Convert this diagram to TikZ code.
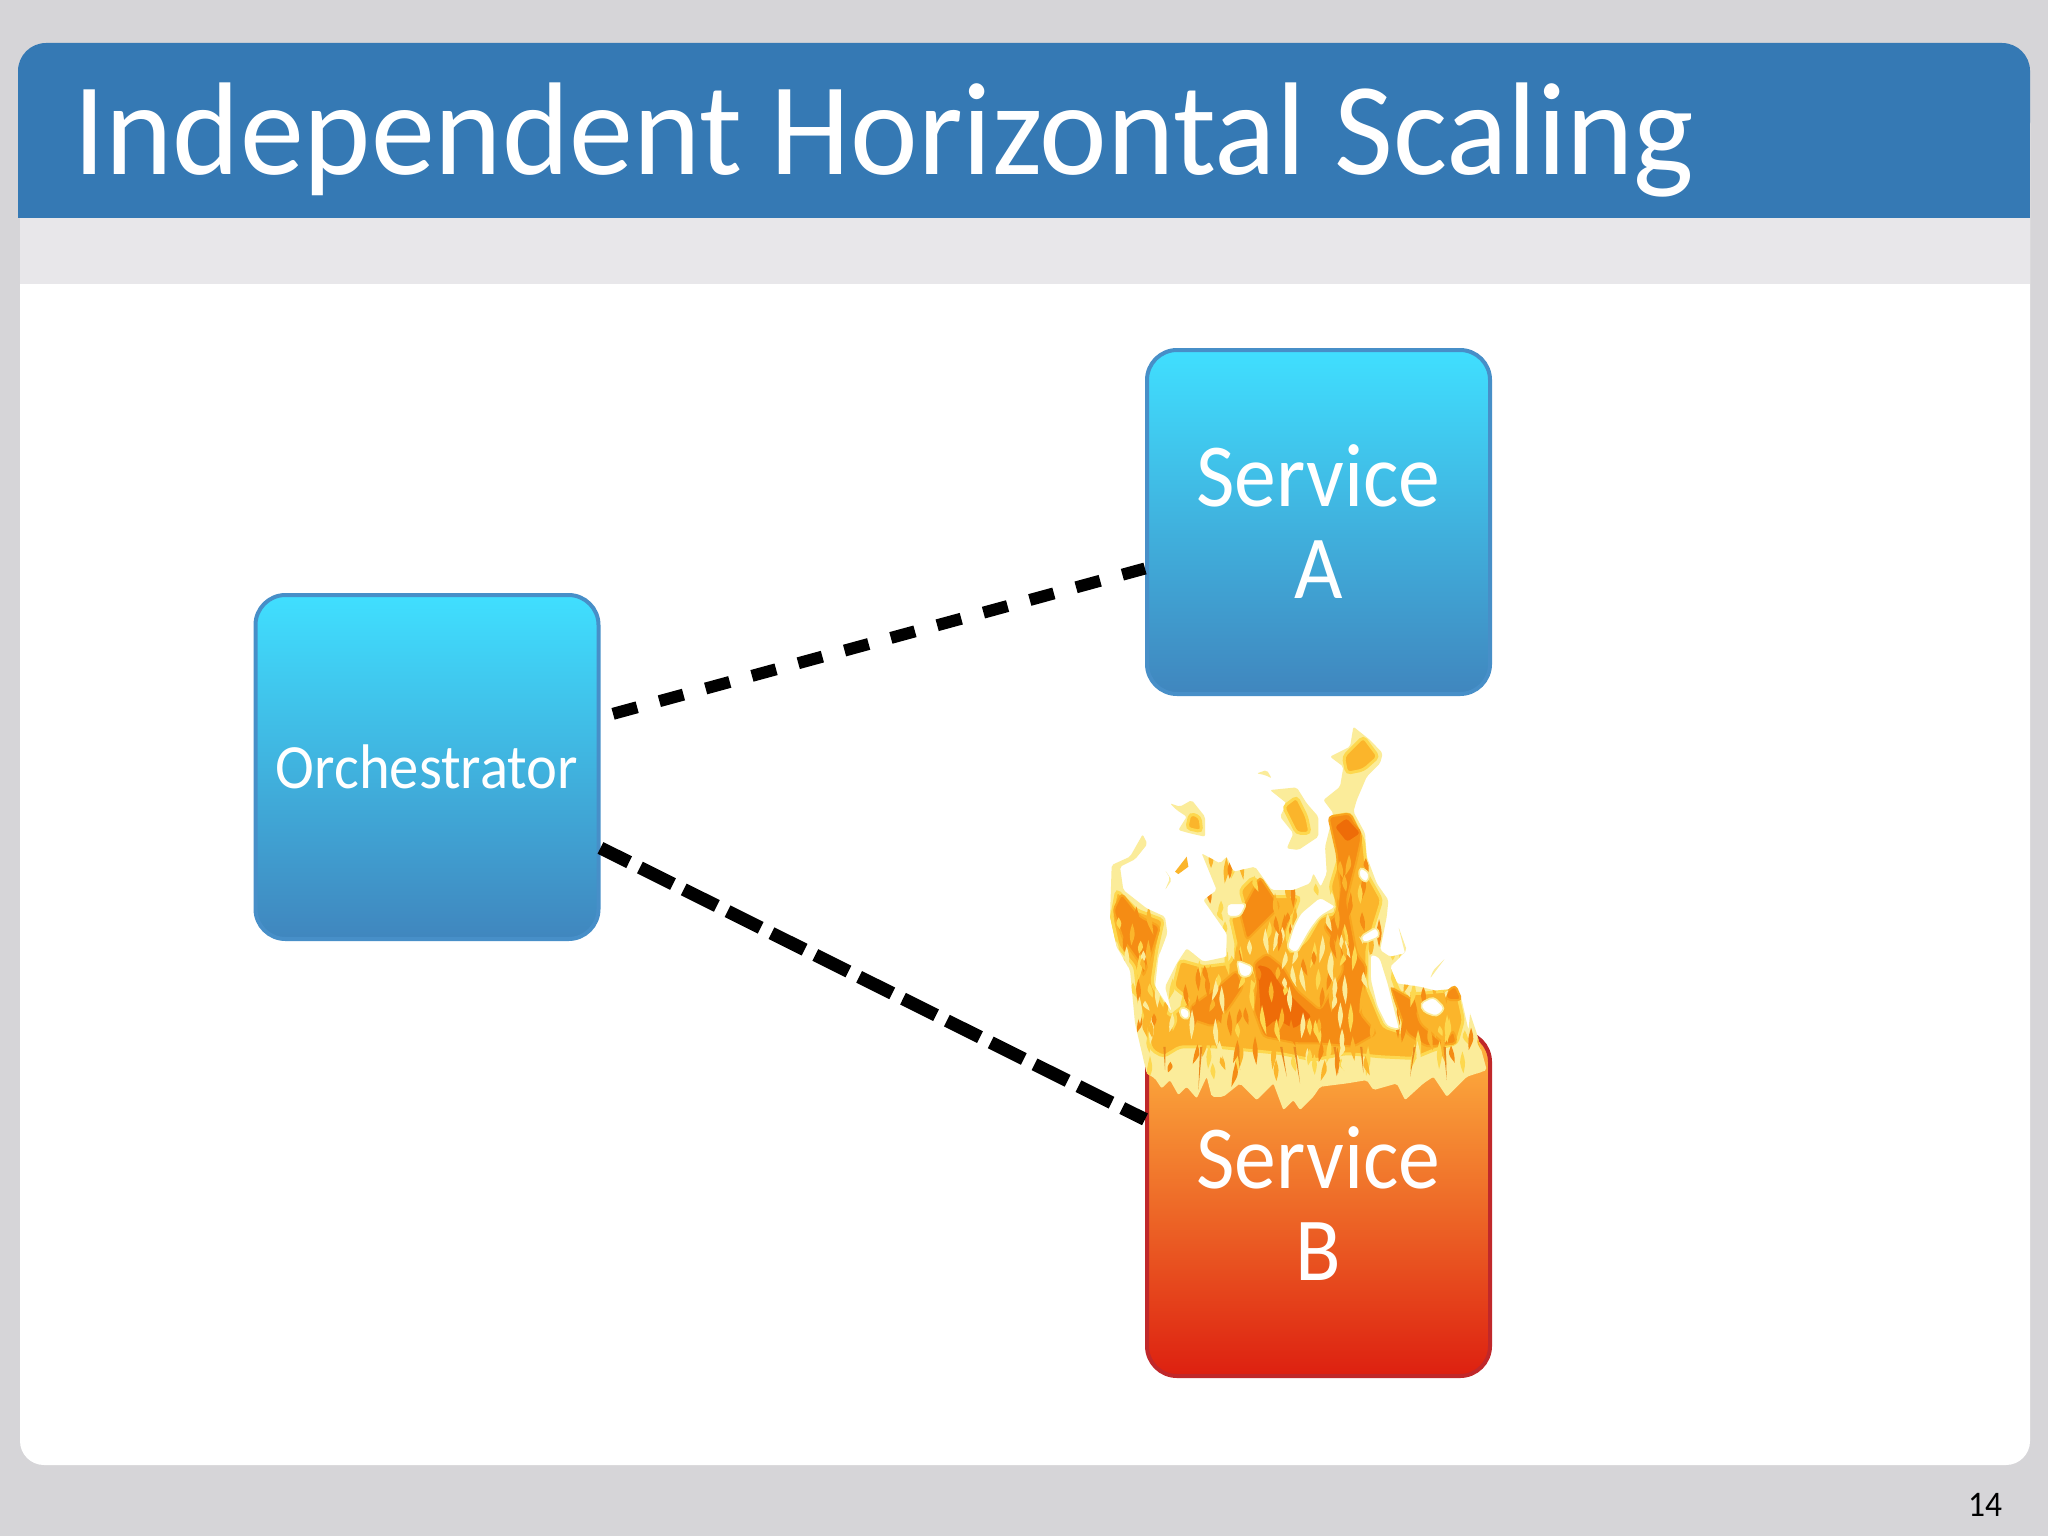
\documentclass[tikz,border=0pt]{standalone}
\usepackage{fontspec}
\setmainfont[FakeStretch=0.93]{Carlito}
\newfontfamily\titlefont[FakeStretch=0.97]{Carlito}
\definecolor{slidegray}{HTML}{D6D5D8}
\definecolor{bandblue}{HTML}{3579B4}
\definecolor{bandpale}{HTML}{E8E7EA}
\definecolor{boxtop}{HTML}{40DFFF}
\definecolor{boxbot}{HTML}{4086BE}
\definecolor{boxline}{HTML}{478FC8}
\definecolor{burntop}{HTML}{FFB540}
\definecolor{burnbot}{HTML}{DD2010}
\definecolor{burnline}{HTML}{C0282A}
\definecolor{flamepale}{HTML}{FBEC9A}
\definecolor{flameyel}{HTML}{FDD84F}
\definecolor{flamemid}{HTML}{FBB52B}
\definecolor{flamewarm}{HTML}{F9A51E}
\definecolor{flamehot}{HTML}{F58C14}
\definecolor{flamecore}{HTML}{EE6C08}
\tikzset{
    service/.style={draw=boxline,line width=2pt,rounded corners=15pt,top color=boxtop,bottom color=boxbot,
        minimum width=171.5pt,minimum height=172pt,inner sep=0pt,text=white,align=center,
        font=\fontsize{45}{46}\selectfont},
    burning/.style={service,draw=burnline,top color=burntop,bottom color=burnbot},
    linkup/.style={line width=6pt,dash pattern=on 12.5pt off 11.5pt},
    linkdown/.style={line width=6.5pt,dash pattern=on 18.5pt off 6pt,dash phase=2.5pt},
    pale/.style={fill=flamepale,rounded corners=1pt},
    mid/.style={fill=flamemid,draw=flameyel,line width=1.5pt,rounded corners=2pt},
    hot/.style={fill=flamehot,draw=flamewarm,line width=1pt,rounded corners=2pt},
    core/.style={fill=flamecore,draw=flamehot,line width=1pt,rounded corners=2pt},
    hole/.style={fill=white,draw=flamepale,line width=0.8pt,rounded corners=2pt}
}
\newcommand{\fireshape}{(200,1120) -- (165,970) -- (150,810) -- (110,740) -- (90,650) -- (95,495) -- (150,470) -- (188,403) -- (202,432) -- (165,478) -- (120,500) -- (130,570) -- (200,625) -- (255,650) -- (262,700) -- (235,770) -- (225,860) -- (275,935) -- (255,860) -- (290,790) -- (320,745) -- (370,785) -- (440,770) -- (440,700) -- (370,600) -- (410,570) -- (365,460) -- (420,490) -- (440,470) -- (460,515) -- (525,500) -- (575,570) -- (640,570) -- (690,550) -- (700,520) -- (722,560) -- (740,520) -- (735,440) -- (760,340) -- (730,300) -- (780,260) -- (790,200) -- (750,170) -- (810,140) -- (820,80) -- (870,120) -- (908,160) -- (900,190) -- (860,230) -- (830,300) -- (820,335) -- (855,400) -- (860,470) -- (890,550) -- (925,600) -- (920,650) -- (900,750) -- (930,770) -- (975,760) -- (955,680) -- (980,750) -- (930,800) -- (950,850) -- (1020,860) -- (1060,870) -- (1090,880) -- (1125,855) -- (1145,900) -- (1165,990) -- (1170,940) -- (1190,1000) -- (1220,1110) -- (1160,1130) -- (1100,1190) -- (1060,1130) -- (1030,1150) -- (975,1200) -- (950,1150) -- (880,1170) -- (860,1140) -- (800,1150) -- (720,1160) -- (700,1190) -- (660,1230) -- (640,1200) -- (610,1230) -- (580,1150) -- (530,1200) -- (480,1150) -- (430,1190) -- (395,1190) -- (380,1130) -- (350,1195) -- (320,1160) -- (295,1185) -- (270,1140) -- (245,1165) -- (225,1135) -- cycle}
\newcommand{\firebody}{(215,1050) -- (175,900) -- (165,800) -- (115,740) -- (95,650) -- (110,570) -- (170,630) -- (250,660) -- (230,750) -- (215,850) -- (270,950) -- (330,900) -- (280,860) -- (300,780) -- (370,800) -- (450,790) -- (470,740) -- (450,650) -- (500,640) -- (480,570) -- (520,530) -- (570,590) -- (660,590) -- (620,700) -- (630,760) -- (680,720) -- (720,650) -- (770,640) -- (750,560) -- (780,460) -- (750,350) -- (810,340) -- (850,420) -- (860,520) -- (905,600) -- (880,680) -- (860,750) -- (860,860) -- (910,980) -- (970,1000) -- (960,900) -- (925,800) -- (960,880) -- (1020,880) -- (1130,870) -- (1150,960) -- (1130,1030) -- (1060,1050) -- (1000,1075) -- (900,1070) -- (800,1060) -- (700,1080) -- (600,1060) -- (500,1050) -- (400,1040) -- (300,1040) -- (250,1070) -- cycle}
\begin{document}
\begin{tikzpicture}[x=0.5pt,y=-0.5pt]
    \useasboundingbox (0,0) rectangle (2048,1536);
    \fill [slidegray] (0,0) rectangle (2048,1536);

    % slide
    \fill [white,rounded corners=12pt] (20,100) rectangle (2030,1465);
    \fill [bandpale] (20,218) rectangle (2030,284);
    \fill [bandblue,rounded corners=14pt] (18,43) rectangle (2030,150);
    \fill [bandblue] (18,100) rectangle (2030,218);
    \node (title) [anchor=base west,inner sep=0pt,text=white,font=\titlefont\fontsize{66}{68}\selectfont] at (73,174) {Independent Horizontal Scaling};
    \node (page) [inner sep=0pt,font=\fontsize{18}{20}\selectfont] at (1985,1505) {14};

    % boxes
    \node (orch) [service,font=\fontsize{31.5}{32}\selectfont] at (427,767) {Orchestrator};
    \node (svca) [service] at (1318.5,522) {Service\\A};
    \node (svcb) [burning] at (1318.5,1204) {Service\\B};

    \draw [linkup,shorten <=6.5pt] (orch.16.4) -- (svca.195.6);
    \draw [linkdown] (orch.-25.6) -- (svcb.154);

    % fire, in coordinates of a 3x crop
    \begin{scope}[shift={(1080,700)},x=0.1667pt,y=-0.1667pt]
    \path [pale] \fireshape;
    \fill [pale] (270,310) -- (300,320) -- (335,300) -- (375,350) -- (375,410) -- (330,400) -- (295,390) -- (320,350) -- (290,330) -- cycle;
    \fill [flamemid] (285,515) -- (320,470) -- (325,500) -- (295,522) -- cycle;
    \fill [pale] (255,510) -- (275,540) -- (255,570) -- (270,535) -- cycle;
    \fill [pale] (530,220) -- (560,210) -- (575,235) -- (555,225) -- cycle;
    \fill [pale] (570,270) -- (650,262) -- (680,310) -- (715,350) -- (715,410) -- (655,450) -- (620,445) -- (640,400) -- (600,350) -- (620,310) -- cycle;
    \fill [pale] (1095,775) -- (1050,835) -- (1060,810) -- cycle;

    \path [mid] \firebody;
    \path [mid] (790,170) -- (850,110) -- (895,170) -- (850,210) -- (800,220) -- cycle;
    \path [mid] (610,320) -- (650,290) -- (680,350) -- (690,400) -- (650,400) -- cycle;
    \path [mid] (330,340) -- (360,350) -- (365,395) -- (320,385) -- cycle;

    \path [hot] (100,630) -- (125,580) -- (180,650) -- (240,680) -- (215,760) -- (190,830) -- (180,790) -- (130,720) -- cycle;
    \path [hot] (520,790) -- (560,760) -- (610,800) -- (650,870) -- (720,930) -- (790,810) -- (780,750) -- (730,680) -- (770,640) -- (780,560) -- (770,460) -- (745,350) -- (810,340) -- (845,410) -- (830,480) -- (800,600) -- (830,760) -- (860,800) -- (840,940) -- (890,1000) -- (820,1040) -- (720,1030) -- (650,1030) -- (550,1010) -- (520,930) -- (530,850) -- cycle;
    \path [hot] (330,920) -- (400,870) -- (470,810) -- (490,860) -- (450,920) -- (400,980) -- (340,960) -- cycle;
    \path [hot] (480,640) -- (540,530) -- (580,590) -- (600,620) -- (540,680) -- (500,720) -- cycle;
    \path [hot] (930,860) -- (1000,900) -- (1020,970) -- (1090,1030) -- (1120,990) -- (1130,1030) -- (1040,1040) -- (980,1000) -- cycle;
    \path [hot] (1095,880) -- (1125,855) -- (1145,900) -- (1100,900) -- cycle;

    \path [core] (540,960) -- (530,790) -- (570,800) -- (610,860) -- (650,900) -- (700,950) -- (640,990) -- (590,960) -- (555,990) -- cycle;
    \path [core] (760,380) -- (800,350) -- (845,400) -- (800,430) -- cycle;

    % licks of colour over the whole flame
    \begin{scope}
    \clip \fireshape;
    \pgfmathsetseed{11}
    \foreach \k in {1,...,320}{%
        \pgfmathsetmacro{\px}{random(90,1200)}
        \pgfmathsetmacro{\py}{random(440,1100)}
        \pgfmathsetmacro{\lick}{random(30,90)}
        \pgfmathsetmacro{\lean}{random(-14,14)}
        \pgfmathsetmacro{\tint}{{"flameyel","flamehot","flamemid","flamepale"}[int(mod(\k,4))]}
        \fill [\tint] (\px,\py) .. controls (\px+10,\py+\lick/2) .. (\px+\lean,\py+\lick) .. controls (\px-10,\py+\lick/2) .. cycle;}
    \end{scope}

    \fill [hole] (660,640) -- (720,590) -- (770,620) -- (720,650) -- (690,690) -- (650,760) -- (620,745) -- (640,680) -- cycle;
    \fill [hole] (870,760) -- (900,770) -- (925,850) -- (950,950) -- (960,990) -- (920,980) -- (890,920) -- (870,840) -- cycle;
    \fill [hole] (1020,910) -- (1060,890) -- (1095,925) -- (1070,950) -- (1030,935) -- cycle;
    \fill [hole] (470,780) -- (520,800) -- (510,830) -- (480,830) -- cycle;
    \fill [hole] (300,920) -- (330,930) -- (325,960) -- (300,950) -- cycle;
    \fill [hole] (840,500) -- (870,520) -- (860,550) -- (835,530) -- cycle;
    \fill [hole] (840,710) -- (890,680) -- (900,710) -- (850,730) -- cycle;
    \fill [hole] (440,610) -- (500,610) -- (480,650) -- (440,650) -- cycle;

    % streaks in the pale foot
    \foreach \xa/\xb/\yb in {250/255/1110,360/355/1170,470/480/1110,600/620/1130,640/660/1150,760/775/1120,840/850/1120,1000/990/1130,1090/1100/1140}{%
        \fill [flamehot!80!brown] (\xa,1040) -- (\xa+7,1040) -- (\xb,\yb) -- cycle;}
    \end{scope}
\end{tikzpicture}
\end{document}
